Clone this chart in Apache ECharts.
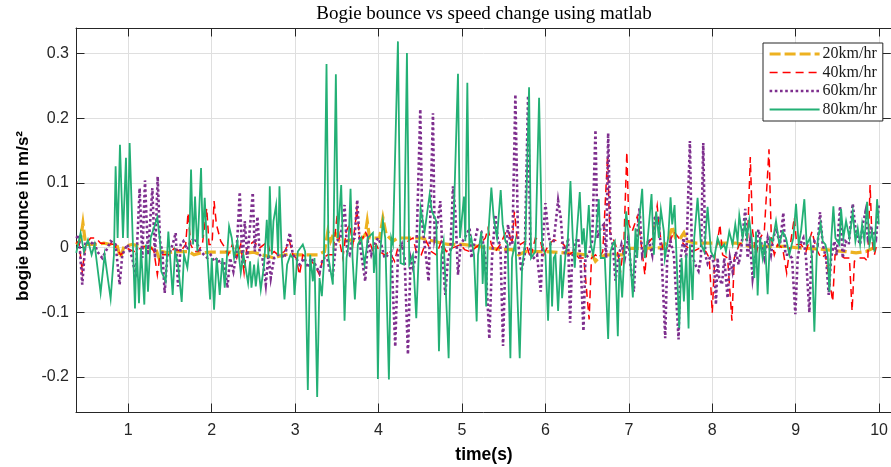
<!DOCTYPE html>
<html>
<head>
<meta charset="utf-8">
<script src="https://cdn.jsdelivr.net/npm/echarts@6/dist/echarts.min.js"></script>
<style>html,body{margin:0;padding:0;background:#fff}#c{width:891px;height:467px}</style>
</head>
<body>
<div id="c"></div>
<script>
const seriesNames = ['20km/hr', '40km/hr', '60km/hr', '80km/hr'];
const xTickLabels = ['1','2','3','4','5','6','7','8','9','10'];
const yTickLabels = ['-0.2','-0.1','0','0.1','0.2','0.3'];

const speed20 = [[0.376,0.005],[0.428,0.012],[0.456,0.038],[0.488,0.005],[0.548,0.005],[0.628,0.005],[0.708,0.007],[0.788,0.005],[0.868,0.002],[0.908,-0.016],[0.948,0.002],[1.048,0.005],[1.148,0.002],[1.268,-0.001],[1.328,-0.001],[1.368,-0.016],[1.408,-0.006],[1.468,-0.008],[1.588,-0.006],[1.728,-0.006],[1.788,-0.011],[1.868,-0.008],[1.988,-0.007],[2.108,-0.007],[2.228,-0.007],[2.288,-0.011],[2.348,-0.006],[2.428,-0.008],[2.508,-0.007],[2.588,-0.011],[2.668,-0.013],[2.748,-0.016],[2.808,-0.013],[2.912,-0.010],[3.032,-0.011],[3.152,-0.011],[3.272,-0.011],[3.352,-0.006],[3.392,0.025],[3.424,0.010],[3.472,0.025],[3.532,0.010],[3.592,0.010],[3.672,0.012],[3.772,0.010],[3.840,0.020],[3.864,0.041],[3.892,0.015],[3.952,0.015],[4.012,0.015],[4.052,0.046],[4.092,0.020],[4.172,0.010],[4.232,0.015],[4.392,0.015],[4.512,0.015],[4.592,0.012],[4.672,0.010],[4.752,0.007],[4.832,0.005],[5.012,0.005],[5.192,0.002],[5.360,-0.001],[5.480,-0.003],[5.600,-0.003],[5.680,-0.011],[5.760,-0.006],[6.000,-0.006],[6.240,-0.008],[6.480,-0.011],[6.560,-0.011],[6.600,-0.021],[6.640,-0.016],[6.720,-0.011],[6.920,-0.011],[7.000,-0.001],[7.160,-0.001],[7.400,0.000],[7.480,0.015],[7.520,0.033],[7.560,0.015],[7.620,0.015],[7.660,0.023],[7.700,0.010],[7.804,0.007],[8.044,0.007],[8.284,0.007],[8.384,0.005],[8.444,0.002],[8.644,0.002],[8.884,0.002],[9.004,0.000],[9.124,-0.001],[9.244,-0.002],[9.364,-0.003],[9.484,-0.005],[9.604,-0.006],[9.724,-0.008],[9.844,-0.006],[9.924,-0.001],[9.984,0.002]];

const speed40 = [[0.376,0.007],[0.408,0.010],[0.448,-0.037],[0.488,0.005],[0.548,0.015],[0.608,0.015],[0.668,0.007],[0.748,0.007],[0.828,0.005],[0.908,-0.011],[0.988,-0.001],[1.068,-0.006],[1.148,-0.001],[1.248,0.005],[1.308,-0.006],[1.348,-0.042],[1.380,-0.011],[1.428,-0.011],[1.488,-0.011],[1.548,-0.001],[1.628,-0.006],[1.688,0.005],[1.716,0.054],[1.748,0.005],[1.788,-0.006],[1.836,-0.006],[1.888,0.005],[1.940,0.061],[1.968,0.005],[2.004,0.005],[2.028,0.072],[2.056,0.036],[2.108,0.010],[2.148,0.002],[2.196,-0.011],[2.248,0.005],[2.300,-0.016],[2.348,0.005],[2.388,-0.039],[2.420,-0.001],[2.460,0.005],[2.508,0.010],[2.568,-0.001],[2.628,0.005],[2.668,0.010],[2.708,-0.011],[2.748,-0.006],[2.796,-0.011],[2.872,-0.006],[2.932,0.010],[2.972,-0.011],[3.012,-0.016],[3.052,-0.042],[3.092,-0.011],[3.152,-0.016],[3.232,-0.026],[3.292,-0.042],[3.332,-0.016],[3.392,-0.011],[3.452,-0.011],[3.504,0.051],[3.532,0.010],[3.572,-0.016],[3.612,0.025],[3.652,0.036],[3.692,0.005],[3.740,0.059],[3.772,0.015],[3.812,0.015],[3.840,0.025],[3.892,0.010],[3.932,-0.006],[3.972,0.005],[4.012,-0.006],[4.072,-0.011],[4.132,-0.006],[4.192,-0.021],[4.240,0.005],[4.292,-0.001],[4.352,0.010],[4.412,0.015],[4.452,-0.006],[4.512,-0.011],[4.572,0.010],[4.632,-0.006],[4.692,-0.011],[4.752,0.010],[4.812,-0.006],[4.872,-0.001],[4.932,0.002],[4.984,0.005],[5.032,-0.003],[5.092,-0.006],[5.152,-0.001],[5.212,0.005],[5.280,0.015],[5.312,0.030],[5.352,0.005],[5.400,-0.006],[5.460,0.005],[5.528,0.025],[5.560,0.025],[5.600,0.005],[5.628,0.056],[5.660,0.015],[5.700,0.005],[5.760,0.010],[5.820,-0.016],[5.880,0.015],[5.940,0.010],[5.980,-0.011],[6.040,0.005],[6.100,0.012],[6.160,0.010],[6.220,0.005],[6.280,-0.011],[6.340,-0.006],[6.400,-0.016],[6.460,-0.016],[6.524,-0.111],[6.552,-0.016],[6.600,-0.011],[6.640,-0.016],[6.688,-0.006],[6.744,0.139],[6.772,0.025],[6.808,0.015],[6.840,0.005],[6.872,-0.011],[6.900,-0.037],[6.940,0.005],[6.976,0.148],[7.000,0.036],[7.040,0.025],[7.100,0.048],[7.140,0.015],[7.192,-0.042],[7.220,0.005],[7.280,0.015],[7.340,0.065],[7.368,0.025],[7.420,-0.011],[7.480,0.005],[7.540,0.025],[7.600,0.015],[7.660,0.005],[7.764,-0.006],[7.844,-0.001],[7.924,-0.006],[7.964,-0.016],[8.000,-0.101],[8.032,-0.011],[8.064,0.010],[8.092,0.036],[8.124,-0.011],[8.184,-0.016],[8.236,-0.113],[8.264,-0.016],[8.324,0.005],[8.384,0.010],[8.424,0.015],[8.456,0.140],[8.484,0.025],[8.524,-0.011],[8.572,0.015],[8.624,0.025],[8.680,0.152],[8.708,0.015],[8.744,-0.011],[8.784,0.005],[8.844,-0.001],[8.892,-0.039],[8.924,-0.006],[8.984,0.047],[9.012,0.005],[9.064,0.005],[9.124,-0.006],[9.196,0.025],[9.244,-0.001],[9.304,-0.016],[9.356,-0.011],[9.444,-0.083],[9.472,-0.011],[9.524,-0.011],[9.584,-0.016],[9.644,-0.016],[9.676,-0.098],[9.704,-0.021],[9.764,-0.016],[9.824,-0.016],[9.864,-0.021],[9.892,0.097],[9.916,0.010],[9.944,-0.011],[9.972,0.005]];

const speed60 = [[0.376,0.015],[0.408,0.020],[0.448,-0.057],[0.488,0.010],[0.548,0.005],[0.588,0.010],[0.628,-0.006],[0.688,-0.016],[0.748,-0.001],[0.788,0.010],[0.848,0.005],[0.896,-0.057],[0.928,-0.011],[0.988,0.005],[1.048,-0.016],[1.088,-0.047],[1.136,0.092],[1.168,-0.016],[1.200,0.104],[1.236,-0.011],[1.288,0.092],[1.320,-0.016],[1.352,0.110],[1.380,0.010],[1.408,-0.006],[1.436,-0.070],[1.468,-0.011],[1.500,-0.006],[1.532,0.005],[1.568,0.023],[1.596,-0.060],[1.628,0.005],[1.660,0.010],[1.708,-0.003],[1.748,0.010],[1.796,0.015],[1.828,0.005],[1.868,-0.006],[1.948,-0.016],[1.988,-0.011],[2.028,-0.021],[2.068,-0.016],[2.108,-0.026],[2.148,-0.021],[2.188,-0.062],[2.220,-0.016],[2.260,-0.037],[2.296,-0.011],[2.336,0.086],[2.368,-0.026],[2.396,0.041],[2.428,-0.016],[2.492,0.085],[2.516,-0.006],[2.548,0.048],[2.576,-0.011],[2.608,-0.016],[2.648,-0.057],[2.680,-0.011],[2.708,-0.047],[2.748,-0.016],[2.796,-0.011],[2.832,-0.011],[2.872,-0.016],[2.936,0.023],[2.972,-0.011],[3.012,-0.016],[3.052,-0.026],[3.112,-0.016],[3.152,-0.031],[3.192,-0.016],[3.240,-0.026],[3.292,-0.039],[3.332,-0.016],[3.384,-0.016],[3.420,-0.039],[3.452,-0.042],[3.492,0.010],[3.544,0.015],[3.592,0.066],[3.624,-0.006],[3.652,-0.011],[3.680,0.010],[3.712,0.015],[3.744,0.074],[3.772,0.010],[3.800,-0.016],[3.840,-0.052],[3.872,0.010],[3.912,-0.011],[3.952,0.005],[3.992,0.015],[4.032,0.005],[4.072,-0.016],[4.112,-0.011],[4.152,-0.006],[4.200,-0.153],[4.232,-0.011],[4.280,0.005],[4.312,-0.016],[4.352,-0.165],[4.384,-0.016],[4.412,-0.031],[4.452,-0.011],[4.500,0.214],[4.524,0.036],[4.552,0.005],[4.600,-0.052],[4.652,0.208],[4.672,0.015],[4.704,0.036],[4.740,0.072],[4.768,-0.016],[4.800,-0.073],[4.832,-0.016],[4.860,-0.006],[4.892,0.095],[4.920,0.056],[4.952,-0.042],[4.984,0.005],[5.032,0.015],[5.092,0.030],[5.112,-0.016],[5.144,0.005],[5.184,0.028],[5.232,0.025],[5.280,-0.016],[5.328,-0.141],[5.360,-0.016],[5.400,0.051],[5.432,0.010],[5.460,0.005],[5.492,-0.152],[5.520,-0.016],[5.552,0.036],[5.580,0.005],[5.604,0.005],[5.640,0.237],[5.672,0.010],[5.712,-0.037],[5.752,-0.011],[5.792,0.235],[5.820,-0.011],[5.860,-0.016],[5.900,-0.011],[5.944,-0.068],[5.968,0.010],[6.000,0.069],[6.032,0.025],[6.060,0.005],[6.100,0.010],[6.152,0.073],[6.184,0.046],[6.208,0.005],[6.240,-0.011],[6.272,0.015],[6.296,-0.116],[6.320,-0.016],[6.360,0.010],[6.392,0.015],[6.420,-0.016],[6.456,-0.129],[6.480,-0.016],[6.520,-0.011],[6.560,0.010],[6.600,0.182],[6.624,0.015],[6.660,0.030],[6.700,0.036],[6.728,-0.016],[6.752,0.177],[6.780,0.015],[6.808,0.005],[6.840,-0.051],[6.872,-0.016],[6.912,0.005],[6.952,-0.016],[6.992,0.015],[7.024,-0.031],[7.060,-0.068],[7.088,0.005],[7.128,0.061],[7.160,-0.011],[7.200,0.005],[7.240,0.010],[7.280,-0.011],[7.312,0.046],[7.352,0.048],[7.392,-0.011],[7.436,-0.140],[7.460,-0.016],[7.500,0.010],[7.540,-0.011],[7.596,-0.142],[7.620,-0.016],[7.656,0.015],[7.688,-0.016],[7.732,0.165],[7.756,-0.011],[7.796,-0.026],[7.836,-0.036],[7.864,-0.016],[7.892,0.162],[7.916,-0.011],[7.944,-0.024],[7.984,-0.011],[8.024,-0.026],[8.044,-0.088],[8.064,-0.016],[8.084,-0.047],[8.116,-0.057],[8.144,-0.016],[8.184,-0.078],[8.212,-0.016],[8.244,-0.037],[8.284,-0.006],[8.316,-0.026],[8.344,-0.006],[8.396,0.060],[8.424,-0.016],[8.452,0.010],[8.484,-0.047],[8.516,-0.016],[8.552,0.028],[8.584,0.010],[8.624,-0.016],[8.664,0.015],[8.704,-0.011],[8.732,0.015],[8.764,0.030],[8.812,0.005],[8.852,0.054],[8.876,-0.011],[8.916,-0.011],[8.956,-0.016],[8.996,-0.103],[9.024,-0.016],[9.052,0.005],[9.092,0.015],[9.124,-0.016],[9.164,-0.100],[9.188,-0.016],[9.224,0.010],[9.264,0.005],[9.292,0.055],[9.324,0.005],[9.364,-0.016],[9.396,-0.073],[9.424,-0.016],[9.464,0.010],[9.492,-0.011],[9.532,0.064],[9.564,-0.016],[9.596,0.010],[9.636,0.005],[9.684,0.068],[9.716,0.030],[9.744,0.015],[9.772,0.005],[9.804,0.036],[9.836,0.055],[9.864,0.015],[9.904,0.030],[9.932,0.025],[9.964,0.015],[9.996,0.066]];

const speed80 = [[0.376,-0.008],[0.428,0.023],[0.468,-0.006],[0.516,0.012],[0.560,-0.011],[0.596,0.005],[0.668,-0.070],[0.716,-0.011],[0.788,-0.079],[0.828,-0.011],[0.848,0.126],[0.872,0.015],[0.900,0.159],[0.936,0.015],[0.972,0.139],[0.992,0.015],[1.016,0.162],[1.080,-0.094],[1.100,0.005],[1.128,-0.086],[1.152,-0.001],[1.192,-0.088],[1.212,0.005],[1.236,-0.068],[1.268,0.015],[1.348,0.047],[1.380,0.010],[1.396,-0.037],[1.448,-0.052],[1.480,0.025],[1.532,-0.073],[1.560,-0.006],[1.596,-0.026],[1.640,-0.084],[1.668,-0.011],[1.708,-0.031],[1.728,-0.006],[1.752,0.121],[1.776,0.005],[1.800,0.079],[1.828,-0.006],[1.872,0.123],[1.892,0.015],[1.916,0.077],[1.948,-0.011],[1.980,-0.080],[2.000,-0.016],[2.028,-0.096],[2.060,-0.016],[2.096,-0.073],[2.128,-0.016],[2.156,-0.062],[2.208,0.033],[2.240,0.015],[2.268,-0.016],[2.308,0.010],[2.348,-0.039],[2.380,-0.011],[2.436,-0.055],[2.460,-0.021],[2.476,-0.062],[2.508,-0.026],[2.528,-0.060],[2.556,-0.026],[2.588,-0.065],[2.628,-0.026],[2.660,0.043],[2.680,-0.016],[2.696,0.095],[2.720,-0.011],[2.740,0.041],[2.772,0.066],[2.796,-0.011],[2.812,0.095],[2.840,-0.016],[2.872,-0.080],[2.904,-0.026],[2.944,-0.011],[2.972,-0.016],[2.992,-0.073],[3.032,-0.006],[3.092,0.005],[3.120,-0.006],[3.152,-0.220],[3.180,-0.011],[3.212,-0.052],[3.232,-0.016],[3.264,-0.231],[3.292,-0.047],[3.320,-0.075],[3.344,-0.026],[3.376,0.284],[3.400,-0.016],[3.452,-0.057],[3.488,0.268],[3.512,0.015],[3.552,0.097],[3.576,-0.016],[3.592,-0.113],[3.616,-0.016],[3.640,0.005],[3.664,0.091],[3.688,-0.016],[3.716,-0.080],[3.752,0.005],[3.792,0.015],[3.832,-0.026],[3.872,0.015],[3.932,0.023],[3.944,-0.039],[3.972,0.005],[3.992,-0.203],[4.016,-0.011],[4.052,0.041],[4.080,0.015],[4.124,-0.204],[4.152,0.015],[4.172,0.005],[4.232,0.319],[4.264,-0.024],[4.304,-0.026],[4.340,0.301],[4.368,-0.026],[4.412,-0.011],[4.452,-0.109],[4.480,-0.016],[4.504,0.061],[4.552,0.025],[4.612,0.082],[4.640,0.056],[4.692,0.041],[4.724,-0.160],[4.752,-0.011],[4.780,0.010],[4.800,-0.047],[4.840,-0.171],[4.864,-0.006],[4.892,0.005],[4.952,0.269],[4.976,0.015],[5.024,0.079],[5.040,0.010],[5.064,0.255],[5.088,0.005],[5.112,0.015],[5.144,-0.011],[5.176,-0.114],[5.192,-0.011],[5.232,0.025],[5.248,-0.056],[5.266,0.005],[5.290,-0.091],[5.310,0.010],[5.352,0.093],[5.380,0.046],[5.420,0.015],[5.464,0.089],[5.488,0.036],[5.520,0.010],[5.548,0.005],[5.580,-0.171],[5.600,-0.016],[5.640,0.010],[5.692,-0.171],[5.720,-0.031],[5.760,0.010],[5.804,0.248],[5.828,-0.016],[5.880,-0.006],[5.924,0.232],[5.960,0.005],[6.000,-0.011],[6.032,-0.113],[6.060,0.010],[6.080,-0.091],[6.100,-0.016],[6.120,-0.011],[6.152,-0.098],[6.184,-0.011],[6.200,-0.078],[6.240,-0.011],[6.268,0.010],[6.300,0.103],[6.328,0.015],[6.352,-0.031],[6.372,0.015],[6.412,0.086],[6.440,0.005],[6.460,0.030],[6.480,-0.016],[6.520,0.066],[6.544,0.005],[6.572,-0.011],[6.600,0.015],[6.640,0.075],[6.664,-0.016],[6.712,-0.016],[6.752,-0.141],[6.780,-0.006],[6.808,0.005],[6.832,0.010],[6.868,-0.137],[6.888,-0.016],[6.920,-0.077],[6.952,0.005],[6.968,0.056],[7.000,0.015],[7.048,-0.077],[7.080,0.030],[7.100,-0.016],[7.120,0.036],[7.160,0.091],[7.192,-0.016],[7.224,0.010],[7.272,0.083],[7.300,-0.011],[7.328,0.056],[7.360,0.015],[7.384,0.059],[7.420,0.025],[7.432,-0.016],[7.472,0.015],[7.500,0.078],[7.520,0.036],[7.548,0.066],[7.572,-0.016],[7.604,-0.124],[7.632,-0.016],[7.660,-0.083],[7.688,-0.011],[7.716,-0.125],[7.732,0.005],[7.764,-0.081],[7.784,0.015],[7.824,0.077],[7.864,0.005],[7.904,-0.006],[7.944,0.063],[7.984,-0.006],[8.024,-0.016],[8.064,0.015],[8.104,-0.001],[8.144,0.005],[8.164,-0.006],[8.204,0.025],[8.244,0.005],[8.276,0.036],[8.304,0.010],[8.324,0.050],[8.364,0.015],[8.392,0.038],[8.416,0.015],[8.444,0.043],[8.476,0.010],[8.504,-0.047],[8.524,0.025],[8.544,-0.074],[8.572,0.015],[8.604,-0.016],[8.632,0.010],[8.664,-0.072],[8.692,0.015],[8.724,0.010],[8.764,0.041],[8.804,0.005],[8.844,0.025],[8.884,0.015],[8.924,-0.011],[8.972,0.015],[9.004,0.068],[9.036,0.005],[9.064,0.025],[9.104,0.075],[9.132,0.005],[9.172,0.015],[9.196,-0.016],[9.224,-0.130],[9.252,-0.011],[9.268,0.015],[9.300,0.037],[9.324,0.010],[9.356,0.005],[9.384,-0.011],[9.404,-0.068],[9.428,0.015],[9.452,0.064],[9.476,0.015],[9.524,0.005],[9.544,0.060],[9.572,0.015],[9.604,0.041],[9.644,0.015],[9.684,0.055],[9.716,0.010],[9.744,0.030],[9.772,0.005],[9.796,0.036],[9.824,0.010],[9.856,0.071],[9.884,0.005],[9.916,0.025],[9.944,-0.006],[9.976,0.075],[9.996,0.036]];

const seriesData = [speed20, speed40, speed60, speed80];
const seriesColors = ['#EDB120', '#FF0000', '#7E2F8E', '#23B075'];
const seriesWidths = [3.2, 1.5, 2.6, 1.8];
const seriesDash = [[11, 4], [8, 5], [2.6, 2.6], 'solid'];

const X_MIN = 0.373, X_MAX = 10.14, Y_MIN = -0.2541, Y_MAX = 0.3397;

const chart = echarts.init(document.getElementById('c'), null, {renderer: 'canvas'});
const axisColor = '#262626';
const tickFont = {fontFamily: 'Liberation Sans, Arial, sans-serif', fontSize: 16, color: axisColor};

const baseX = {
  type: 'value', min: X_MIN, max: X_MAX, splitNumber: 10, minInterval: 1, maxInterval: 1,
  axisLine: {show: true, onZero: false, lineStyle: {color: axisColor, width: 1}},
  axisTick: {show: true, inside: true, length: 8.5, lineStyle: {color: axisColor}},
};
const baseY = {
  type: 'value', min: Y_MIN, max: Y_MAX, splitNumber: 6, minInterval: 0.1, maxInterval: 0.1,
  axisLine: {show: true, onZero: false, lineStyle: {color: axisColor, width: 1}},
  axisTick: {show: true, inside: true, length: 8.5, lineStyle: {color: axisColor}},
};

const legendItems = seriesNames.map((n, i) => ({
  name: n,
  itemStyle: {color: 'rgba(0,0,0,0)', borderColor: 'rgba(0,0,0,0)', borderWidth: 0},
  lineStyle: {color: seriesColors[i], width: seriesWidths[i], type: seriesDash[i], cap: 'butt'}
}));

chart.setOption({
  animation: false,
  backgroundColor: '#fff',
  grid: {left: 76, right: 0, top: 28, bottom: 55, containLabel: false},
  xAxis: [
    Object.assign({}, baseX, {
      position: 'bottom',
      axisLabel: Object.assign({show: true, margin: 11, showMinLabel: false, showMaxLabel: false,
        formatter: v => { const s = String(Math.round(v)); return xTickLabels.includes(s) ? s : ''; }}, tickFont),
      splitLine: {show: true, lineStyle: {color: '#dfdfdf', width: 1}}
    }),
    Object.assign({}, baseX, {position: 'top', axisLabel: {show: false}, splitLine: {show: false}})
  ],
  yAxis: [
    Object.assign({}, baseY, {
      position: 'left',
      axisLabel: Object.assign({show: true, margin: 7, showMinLabel: false, showMaxLabel: false,
        formatter: v => { const s = String(Math.round(v * 10) / 10); return yTickLabels.includes(s) ? s : ''; }}, tickFont),
      splitLine: {show: true, lineStyle: {color: '#dfdfdf', width: 1}}
    }),
    Object.assign({}, baseY, {position: 'right', axisLabel: {show: false}, splitLine: {show: false}})
  ],
  legend: {
    show: true, orient: 'vertical', left: 763, top: 43,
    data: legendItems, selectedMode: false,
    itemWidth: 50, itemHeight: 14, itemGap: 2.5,
    padding: [3, 6, 3.5, 5],
    itemStyle: {color: 'rgba(0,0,0,0)', borderColor: 'rgba(0,0,0,0)', borderWidth: 0},
    borderColor: axisColor, borderWidth: 1, backgroundColor: '#fff',
    textStyle: {fontFamily: 'Liberation Serif, Times New Roman, serif', fontSize: 16, lineHeight: 16, color: '#1a1a1a', padding: [0, 0, 0, -2]}
  },
  graphic: [
    {type: 'text', x: 484, y: 14, style: {text: 'Bogie bounce vs speed change using matlab', font: '19px "Liberation Serif", serif', fill: '#000', textAlign: 'center', textVerticalAlign: 'middle'}},
    {type: 'text', x: 484, y: 455, style: {text: 'time(s)', font: 'bold 17.5px "Liberation Sans", Arial, sans-serif', fill: '#000', textAlign: 'center', textVerticalAlign: 'middle'}},
    {type: 'text', x: 23, y: 216, rotation: Math.PI / 2, style: {text: 'bogie bounce in m/s²', font: 'bold 17px "Liberation Sans", Arial, sans-serif', fill: '#000', textAlign: 'center', textVerticalAlign: 'middle'}}
  ],
  series: seriesNames.map((name, i) => ({
    name: name, type: 'line', data: seriesData[i], xAxisIndex: 0, yAxisIndex: 0,
    showSymbol: false, symbol: 'none', smooth: false, clip: true,
    lineStyle: {color: seriesColors[i], width: seriesWidths[i], type: seriesDash[i], cap: 'butt', join: 'miter'},
    itemStyle: {color: seriesColors[i]},
    emphasis: {disabled: true}, z: 2 + i
  }))
});
</script>
</body>
</html>
